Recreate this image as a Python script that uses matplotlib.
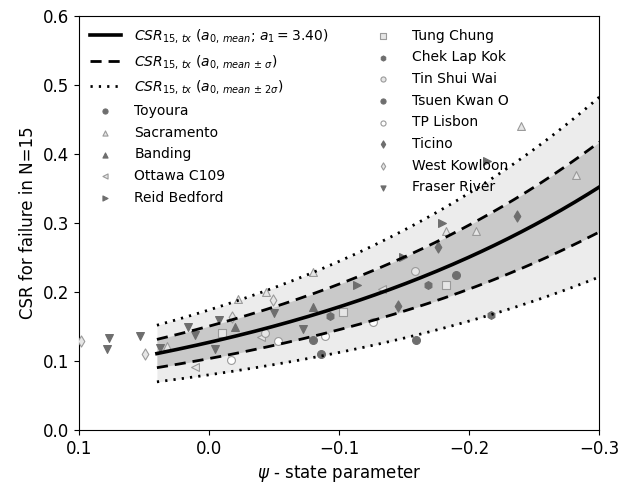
import numpy as np
import matplotlib
matplotlib.use("Agg")
import matplotlib.pyplot as plt

# ---- fitted curve parameters ----
a0_mean = 0.127
a0_sigma = 0.0235
a1 = 3.40
psi_start, psi_end = 0.04, -0.30

# ---- data series (psi, CSR) ----
toyoura_x = [-0.080, -0.190]
toyoura_y = [0.130, 0.225]
sacramento_x = [0.0325, -0.022, -0.044, -0.080, -0.182, -0.205, -0.240, -0.282]
sacramento_y = [0.122, 0.190, 0.200, 0.229, 0.288, 0.288, 0.440, 0.369]
banding_x = [-0.020, -0.080]
banding_y = [0.150, 0.179]
ottawa_x = [0.011, -0.040, -0.133]
ottawa_y = [0.091, 0.135, 0.205]
reid_x = [-0.114, -0.149, -0.179, -0.214]
reid_y = [0.210, 0.251, 0.300, 0.390]
tung_x = [-0.010, -0.103, -0.182]
tung_y = [0.140, 0.171, 0.210]
chek_x = [-0.093, -0.168, -0.217]
chek_y = [0.165, 0.210, 0.166]
tinshui_x = [-0.043, -0.158]
tinshui_y = [0.140, 0.230]
tsuen_x = [-0.086, -0.159]
tsuen_y = [0.110, 0.130]
lisbon_x = [-0.017, -0.053, -0.089, -0.126]
lisbon_y = [0.101, 0.129, 0.136, 0.157]
ticino_x = [-0.145, -0.176, -0.237]
ticino_y = [0.180, 0.265, 0.310]
westk_x = [0.098, 0.049, -0.0175, -0.049]
westk_y = [0.129, 0.110, 0.164, 0.189]
fraser_x = [0.077, 0.078, 0.053, 0.038, 0.016, 0.011, -0.008, -0.005, -0.050, -0.072]
fraser_y = [0.133, 0.117, 0.136, 0.119, 0.149, 0.138, 0.159, 0.118, 0.170, 0.146]

x_ticks = [0.1, 0.0, -0.1, -0.2, -0.3]
y_ticks = [0.0, 0.1, 0.2, 0.3, 0.4, 0.5, 0.6]

dark = "#6e6e6e"
light_face = "#e6e6e6"
light_edge = "#9a9a9a"

fig = plt.figure(figsize=(6.21, 4.87), dpi=100)
ax = fig.add_axes([0.127, 0.117, 0.838, 0.850])

psi = np.linspace(psi_start, psi_end, 200)
f = np.exp(-a1 * psi)
mean = a0_mean * f
up1 = (a0_mean + a0_sigma) * f
lo1 = (a0_mean - a0_sigma) * f
up2 = (a0_mean + 2 * a0_sigma) * f
lo2 = (a0_mean - 2 * a0_sigma) * f

ax.fill_between(psi, lo2, up2, color="#ececec", lw=0, zorder=1)
ax.fill_between(psi, lo1, up1, color="#c9c9c9", lw=0, zorder=1.5)

h_mean, = ax.plot(psi, mean, color="black", lw=2.6, zorder=4,
                  label=r"$CSR_{15,\,tx}$ ($a_{0,\,mean}$; $a_1 = 3.40$)")
h_s1, = ax.plot(psi, up1, color="black", lw=2.0, ls=(0, (4, 2.5)), zorder=4,
                label=r"$CSR_{15,\,tx}$ ($a_{0,\,mean\,\pm\,\sigma}$)")
ax.plot(psi, lo1, color="black", lw=2.0, ls=(0, (4, 2.5)), zorder=4)
h_s2, = ax.plot(psi, up2, color="black", lw=2.0, ls=(0, (0.8, 2.2)), zorder=4,
                label=r"$CSR_{15,\,tx}$ ($a_{0,\,mean\,\pm\,2\sigma}$)")
ax.plot(psi, lo2, color="black", lw=2.0, ls=(0, (0.8, 2.2)), zorder=4)

series = [
    ("Toyoura", toyoura_x, toyoura_y, "o", dark, dark),
    ("Sacramento", sacramento_x, sacramento_y, "^", light_face, light_edge),
    ("Banding", banding_x, banding_y, "^", dark, dark),
    ("Ottawa C109", ottawa_x, ottawa_y, "<", light_face, light_edge),
    ("Reid Bedford", reid_x, reid_y, ">", dark, dark),
    ("Tung Chung", tung_x, tung_y, "s", light_face, light_edge),
    ("Chek Lap Kok", chek_x, chek_y, "h", dark, dark),
    ("Tin Shui Wai", tinshui_x, tinshui_y, "o", light_face, light_edge),
    ("Tsuen Kwan O", tsuen_x, tsuen_y, "o", dark, dark),
    ("TP Lisbon", lisbon_x, lisbon_y, "o", "white", light_edge),
    ("Ticino", ticino_x, ticino_y, "d", dark, dark),
    ("West Kowloon", westk_x, westk_y, "d", light_face, light_edge),
    ("Fraser River", fraser_x, fraser_y, "v", dark, dark),
]
handles = [h_mean, h_s1, h_s2]
for name, xs, ys, m, fc, ec in series:
    h = ax.scatter(xs, ys, marker=m, s=32, facecolor=fc, edgecolor=ec,
                   linewidth=0.8, zorder=3, label=name)
    handles.append(h)

ax.set_xlim(0.1, -0.3)
ax.set_ylim(0.0, 0.6)
ax.set_xticks(x_ticks)
ax.set_yticks(y_ticks)
ax.xaxis.set_major_formatter(matplotlib.ticker.FuncFormatter(
    lambda v, p: f"{v:.1f}".replace("-", "\u2212")))
ax.yaxis.set_major_formatter(matplotlib.ticker.FuncFormatter(
    lambda v, p: f"{v:.1f}"))
ax.tick_params(labelsize=12)
ax.set_xlabel(r"$\psi$ - state parameter", fontsize=12)
ax.set_ylabel("CSR for failure in N=15", fontsize=12)

ax.legend(handles=handles, ncol=2, loc="upper left", frameon=False,
          fontsize=10, columnspacing=2.8, handlelength=2.2,
          handletextpad=1.0, markerscale=0.65,
          borderaxespad=0.4, labelspacing=0.55)

fig.savefig("out.png", dpi=100)
